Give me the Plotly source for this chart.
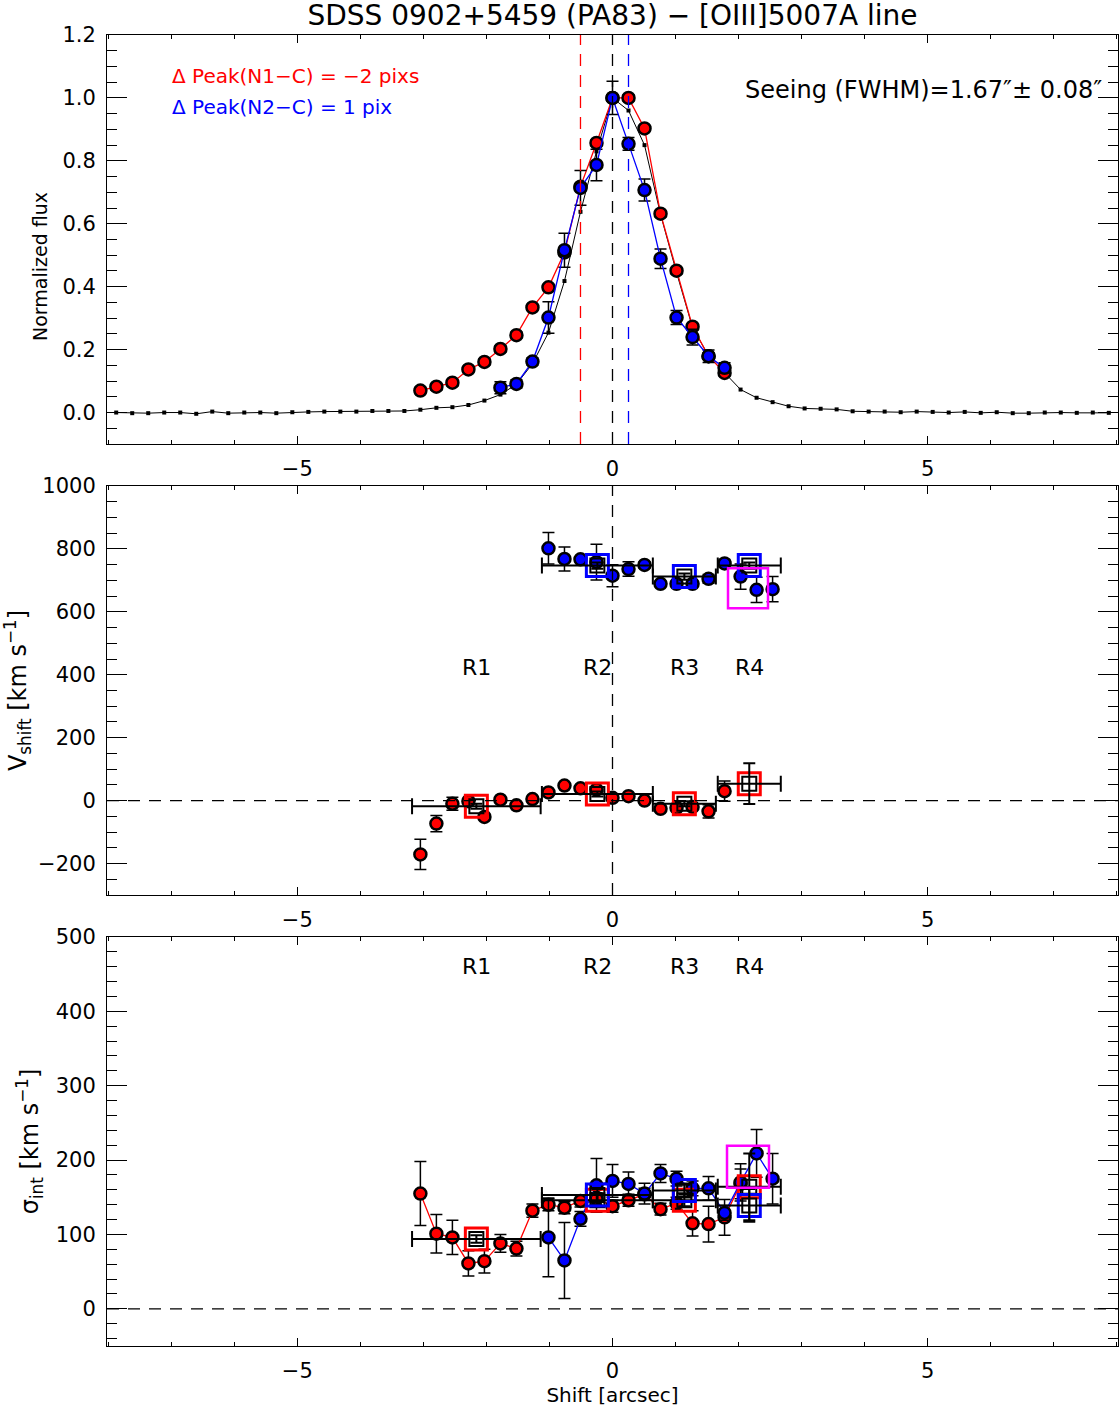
import plotly.graph_objects as go

# ---------------- data ----------------
PIX = 0.254  # arcsec per pixel
peak_shift_pix = {"N1": -2, "N2": 1}

profile_pix = list(range(-31, 32))
profile_flux = [0.0, -0.002, -0.002, 0.0, 0.0, -0.004, 0.003, -0.002, 0.0, 0.0, -0.002, 0.001,
                0.002, 0.003, 0.003, 0.003, 0.005, 0.005, 0.005, 0.009, 0.015, 0.017, 0.024, 0.038,
                0.057,
                0.09, 0.155, 0.254, 0.418, 0.638, 0.83, 1.0, 0.96, 0.85, 0.63, 0.445, 0.27, 0.18, 0.126,
                0.073, 0.047, 0.033, 0.020, 0.013, 0.012, 0.010, 0.004, 0.003, 0.003, 0.001, 0.003,
                0.002, 0.0, 0.002, -0.001, 0.001, -0.002, -0.002, 0.0, 0.0, -0.001, 0.0, -0.001]

red_flux_pix = list(range(-12, 8))
red_flux = [0.07, 0.082, 0.095, 0.137, 0.161, 0.202, 0.246, 0.334, 0.398, 0.509, 0.718, 0.857,
            1.0, 1.0, 0.903, 0.632, 0.451, 0.273, 0.179, 0.126]
red_flux_err = [0.01] * 20

blue_flux_pix = list(range(-7, 8))
blue_flux = [0.079, 0.091, 0.162, 0.302, 0.516, 0.714, 0.787, 1.0, 0.854, 0.707, 0.489, 0.302,
             0.240, 0.179, 0.142]
blue_flux_err = [0.019, 0.013, 0.012, 0.05, 0.054, 0.055, 0.05, 0.053, 0.02, 0.035, 0.031, 0.022,
                 0.025, 0.02, 0.016]

red_v_pix = list(range(-12, 8))
red_v = [-171, -73, -10, -2, -52, 3, -15, 5, 26, 48, 39, 35, 9, 14, 0, -26, -23, -20, -34, 30]
red_v_err = [48, 26, 21, 8, 8, 6, 6, 6, 6, 6, 6, 6, 6, 6, 6, 6, 6, 6, 21, 32]

blue_v_pix = list(range(-4, 11))
blue_v = [802, 768, 767, 758, 715, 736, 749, 689, 689, 689, 705, 754, 712, 670, 672]
blue_v_err = [50, 38, 8, 57, 35, 23, 10, 8, 8, 8, 14, 12, 40, 40, 40]

red_s_pix = list(range(-12, 9))
red_s = [155, 101, 96, 61, 64, 88, 81, 132, 140, 136, 145, 148, 138, 146, 154, 134, 142, 115,
         114, 123, 168]
red_s_err = [43, 26, 23, 17, 16, 12, 10, 9, 8, 8, 8, 8, 8, 8, 8, 8, 8, 17, 24, 24, 20]

blue_s_pix = list(range(-4, 11))
blue_s = [96, 65, 121, 166, 172, 168, 155, 182, 175, 162, 162, 129, 170, 209, 175]
blue_s_err = [53, 51, 10, 36, 22, 16, 14, 12, 10, 10, 16, 10, 25, 32, 34]

regions = ["R1", "R2", "R3", "R4"]
region_x = [-2.16, -0.24, 1.14, 2.17]
region_halfwidth = [1.02, 0.88, 0.5, 0.5]
red_region_v = [-18, 21, -10, 54]
red_region_v_err = [8, 8, 8, 65]
blue_region_v = [747, 712, 747]          # R2, R3, R4
blue_region_v_err = [10, 10, 10]
red_region_s = [94, 146, 146, 164]
red_region_s_err = [5, 8, 8, 45]
blue_region_s = [153, 159, 139]          # R2, R3, R4
blue_region_s_err = [8, 8, 22]
magenta_x = 2.15
magenta_v = 675
magenta_s = 191

label_v_y = 422
label_s_y = 461

seeing_text = "Seeing (FWHM)=1.67\u2033\u00b1 0.08\u2033"
title_text = "SDSS 0902+5459 (PA83) \u2212 [OIII]5007A line"

# ---------------- figure ----------------
FONT = "DejaVu Sans"
W, H = 1119, 1413
L, R, T, B = 107, 1, 35, 67
PH = H - T - B
PW = W - L - R

RED, BLUE, MAG = "#ff0000", "#0000ff", "#ff00ff"

fig = go.Figure()


def px(pix):
    return [p * PIX for p in pix]


def dots(x, y, err, color, xa, ya, line=True, errw=1.5):
    fig.add_trace(go.Scatter(
        x=x, y=y, mode="lines+markers" if line else "markers",
        line=dict(color=color, width=1.3),
        marker=dict(size=12, color=color, line=dict(color="black", width=2.5)),
        error_y=dict(type="data", array=err, color="black", thickness=errw, width=6),
        xaxis=xa, yaxis=ya, showlegend=False, hoverinfo="skip"))


def boxes(x, y, yerr, xerr, color, xa, ya):
    fig.add_trace(go.Scatter(
        x=x, y=y, mode="markers",
        marker=dict(symbol="square-open", size=22, color=color, line=dict(color=color, width=3)),
        xaxis=xa, yaxis=ya, showlegend=False, hoverinfo="skip"))
    fig.add_trace(go.Scatter(
        x=x, y=y, mode="markers",
        marker=dict(symbol="square-open", size=14, color="black", line=dict(color="black", width=2)),
        error_y=dict(type="data", array=yerr, color="black", thickness=2, width=6),
        error_x=dict(type="data", array=xerr, color="black", thickness=2, width=8),
        xaxis=xa, yaxis=ya, showlegend=False, hoverinfo="skip"))


# top panel
fig.add_trace(go.Scatter(
    x=px(profile_pix), y=profile_flux, mode="lines+markers",
    line=dict(color="black", width=1), marker=dict(symbol="square", size=4, color="black"),
    xaxis="x", yaxis="y", showlegend=False, hoverinfo="skip"))
dots(px(red_flux_pix), red_flux, red_flux_err, RED, "x", "y")
dots(px(blue_flux_pix), blue_flux, blue_flux_err, BLUE, "x", "y")

# middle panel
dots(px(red_v_pix), red_v, red_v_err, RED, "x2", "y2", line=False)
dots(px(blue_v_pix), blue_v, blue_v_err, BLUE, "x2", "y2", line=False)
boxes(region_x, red_region_v, red_region_v_err, region_halfwidth, RED, "x2", "y2")
boxes(region_x[1:], blue_region_v, blue_region_v_err, region_halfwidth[1:], BLUE, "x2", "y2")
fig.add_trace(go.Scatter(x=[magenta_x], y=[magenta_v], mode="markers",
                         marker=dict(symbol="square-open", size=40, color=MAG, line=dict(color=MAG, width=2.5)),
                         xaxis="x2", yaxis="y2", showlegend=False, hoverinfo="skip"))

# bottom panel
dots(px(red_s_pix), red_s, red_s_err, RED, "x3", "y3")
dots(px(blue_s_pix), blue_s, blue_s_err, BLUE, "x3", "y3")
boxes(region_x, red_region_s, red_region_s_err, region_halfwidth, RED, "x3", "y3")
boxes(region_x[1:], blue_region_s, blue_region_s_err, region_halfwidth[1:], BLUE, "x3", "y3")
fig.add_trace(go.Scatter(x=[magenta_x], y=[magenta_s], mode="markers",
                         marker=dict(symbol="square-open", size=42, color=MAG, line=dict(color=MAG, width=2.5)),
                         xaxis="x3", yaxis="y3", showlegend=False, hoverinfo="skip"))

# dashed reference lines
shapes = []
for xv, col in [(peak_shift_pix["N1"] * PIX, RED), (0, "black"), (peak_shift_pix["N2"] * PIX, BLUE)]:
    shapes.append(dict(type="line", xref="x", yref="y domain", x0=xv, x1=xv, y0=0, y1=1,
                       line=dict(color=col, width=1.3, dash="12px,9px")))
shapes.append(dict(type="line", xref="x2", yref="y2 domain", x0=0, x1=0, y0=0, y1=1,
                   line=dict(color="black", width=1.3, dash="12px,9px")))
for ya in ["y2", "y3"]:
    xa = "x2" if ya == "y2" else "x3"
    shapes.append(dict(type="line", xref=xa + " domain", yref=ya, x0=0, x1=1, y0=0, y1=0,
                       line=dict(color="black", width=1.3, dash="12px,9px")))

annotations = [
    dict(text="\u0394 Peak(N1\u2212C) = \u22122 pixs", x=-7.02, y=1.07, xref="x", yref="y",
         xanchor="left", yanchor="middle", showarrow=False, font=dict(color=RED, size=20, family=FONT)),
    dict(text="\u0394 Peak(N2\u2212C) = 1 pix", x=-7.02, y=0.971, xref="x", yref="y",
         xanchor="left", yanchor="middle", showarrow=False, font=dict(color=BLUE, size=20, family=FONT)),
    dict(text=seeing_text, x=7.8, y=1.025, xref="x", yref="y",
         xanchor="right", yanchor="middle", showarrow=False, font=dict(color="black", size=24, family=FONT)),
    dict(text="Normalized flux", x=(40 - L) / PW, y=(H - B - 267) / PH, xref="paper", yref="paper",
         textangle=-90, showarrow=False, xanchor="center", yanchor="middle",
         font=dict(size=19, family=FONT, color="black")),
]
for rx, name in zip(region_x, regions):
    annotations.append(dict(text=name, x=rx, y=label_v_y, xref="x2", yref="y2", showarrow=False,
                            font=dict(size=22, color="black", family=FONT)))
    annotations.append(dict(text=name, x=rx, y=label_s_y, xref="x3", yref="y3", showarrow=False,
                            font=dict(size=22, color="black", family=FONT)))

xcommon = dict(range=[-8.02, 8.02], dtick=5, tick0=0, ticks="inside", ticklen=8, tickwidth=1,
               tickcolor="black", showline=True, linecolor="black", linewidth=1, mirror="allticks",
               showgrid=False, zeroline=False, ticklabelstandoff=6,
               tickfont=dict(size=21, family=FONT, color="black"),
               minor=dict(dtick=1, ticks="inside", ticklen=4, tickcolor="black", showgrid=False))
ycommon = dict(ticks="inside", ticklen=20, tickwidth=1, tickcolor="black", showline=True,
               linecolor="black", linewidth=1, mirror="allticks", showgrid=False, zeroline=False,
               ticklabelstandoff=6, tickfont=dict(size=21, family=FONT, color="black"))


def dom(top_px, bot_px):
    return [(H - B - bot_px) / PH, (H - B - top_px) / PH]


fig.update_layout(
    width=W, height=H, margin=dict(l=L, r=R, t=T, b=B),
    paper_bgcolor="white", plot_bgcolor="white",
    font=dict(family=FONT, color="black"),
    title=dict(text=title_text, x=(L + (W - R)) / 2 / W, xanchor="center", y=1 - 15 / H, yanchor="middle",
               font=dict(size=28, family=FONT, color="black")),
    xaxis=dict(**xcommon, anchor="y", domain=[0, 1]),
    xaxis2=dict(**xcommon, anchor="y2", domain=[0, 1]),
    xaxis3=dict(**xcommon, anchor="y3", domain=[0, 1],
                title=dict(text="Shift [arcsec]", font=dict(size=20, family=FONT), standoff=2)),
    yaxis=dict(**ycommon, anchor="x", domain=dom(35, 444), range=[-0.1, 1.2], dtick=0.2, tick0=0,
               tickformat=".1f", minor=dict(dtick=0.05, ticks="inside", ticklen=10, tickcolor="black")),
    yaxis2=dict(**ycommon, anchor="x2", domain=dom(486, 895), range=[-300, 1000], dtick=200, tick0=0,
                minor=dict(dtick=50, ticks="inside", ticklen=10, tickcolor="black"),
                title=dict(text="V<sub>shift</sub> [km s<sup>\u22121</sup>]", font=dict(size=24, family=FONT),
                           standoff=4)),
    yaxis3=dict(**ycommon, anchor="x3", domain=dom(937, 1346), range=[-50, 500], dtick=100, tick0=0,
                minor=dict(dtick=20, ticks="inside", ticklen=10, tickcolor="black"),
                title=dict(text="\u03c3<sub>int</sub> [km s<sup>\u22121</sup>]", font=dict(size=24, family=FONT),
                           standoff=10)),
    shapes=shapes, annotations=annotations,
)

fig.write_html("out.html")
